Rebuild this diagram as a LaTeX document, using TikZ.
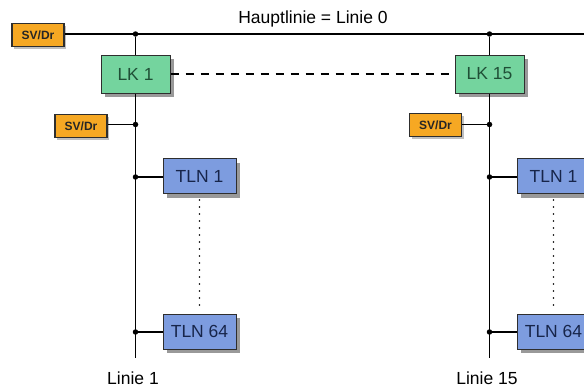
\documentclass[tikz,border=0pt]{standalone}
\usepackage{fontspec}
\setmainfont{Liberation Sans}
\usetikzlibrary{shadows}

\definecolor{svfill}{HTML}{F6A823}
\definecolor{lkfill}{HTML}{74D49E}
\definecolor{lktext}{HTML}{1F4F36}
\definecolor{tlnfill}{HTML}{7D9CDF}
\definecolor{tlntext}{HTML}{17254A}
\definecolor{edge}{HTML}{2E2E2E}

\tikzset{
  boxshadow/.style={general shadow={shadow xshift=4pt, shadow yshift=-4pt, fill=black!40}},
  svbox/.style={draw=edge, line width=1.2pt, fill=svfill, minimum width=52pt, minimum height=23pt,
    inner sep=0pt, font=\fontsize{12}{12}\selectfont\bfseries, text=black!85,
    general shadow={shadow xshift=2pt, shadow yshift=-2pt, fill=black!25}},
  lkbox/.style={draw=edge, line width=1pt, fill=lkfill, minimum width=69pt, minimum height=38pt,
    inner sep=0pt, font=\fontsize{17.5}{17.5}\selectfont, text=lktext, boxshadow},
  tlnbox/.style={draw=edge, line width=1pt, fill=tlnfill, minimum width=73pt, minimum height=35pt,
    inner sep=0pt, font=\fontsize{17.5}{17.5}\selectfont, text=tlntext, boxshadow},
  label/.style={font=\fontsize{17.5}{17.5}\selectfont, inner sep=0pt},
  wire/.style={line width=1.5pt, black},
  dots/.style={line width=1.8pt, line cap=round, dash pattern=on 0pt off 7pt},
  junction/.style={circle, fill=black, inner sep=0pt, minimum size=5.5pt},
}

\begin{document}
\begin{tikzpicture}[x=1pt, y=-1pt]
  \useasboundingbox (0,0) rectangle (584,388);
  \clip (0,0) rectangle (584,388);
  \fill[white] (0,0) rectangle (584,388);

  % main line (line 0)
  \node[label] (title) at (313,19) {Hauptlinie = Linie 0};
  \node[svbox] (sv0) at (38,35) {SV/Dr};
  \coordinate (mainend) at (590,34);
  \draw[wire] (sv0.east |- 0,34) -- (mainend);

  % line couplers
  \node[lkbox] (lk1) at (135.5,74) {LK 1};
  \node[lkbox] (lk15) at (489.5,74) {LK 15};
  \node[junction] (j01) at (135.5,34) {};
  \node[junction] (j015) at (489.5,34) {};
  \draw[wire] (j01) -- (lk1.north);
  \draw[wire] (j015) -- (lk15.north);
  \draw[line width=1.2pt, dash pattern=on 8pt off 7pt] (lk1.east) -- (lk15.west);

  % line 1
  \coordinate (end1) at (135.5,358);
  \draw[wire] (lk1.south) -- (end1);
  \node[svbox] (sv1) at (81,126) {SV/Dr};
  \node[junction] (js1) at (135.5,124.5) {};
  \draw[wire] (sv1.east |- js1) -- (js1);
  \node[tlnbox] (t1a) at (199.5,176) {TLN 1};
  \node[tlnbox] (t1b) at (199.5,331.5) {TLN 64};
  \node[junction] (jt1a) at (135.5,177) {};
  \node[junction] (jt1b) at (135.5,332) {};
  \draw[wire] (jt1a) -- (t1a.west |- jt1a);
  \draw[wire] (jt1b) -- (t1b.west |- jt1b);
  \draw[dots] ([yshift=-6pt]t1a.south) -- ([yshift=4pt]t1b.north);
  \node[label] (lab1) at (133,378) {Linie 1};

  % line 15
  \coordinate (end15) at (489.5,358);
  \draw[wire] (lk15.south) -- (end15);
  \node[svbox] (sv15) at (435.5,125) {SV/Dr};
  \node[junction] (js15) at (489.5,124.5) {};
  \draw[wire] (sv15.east |- js15) -- (js15);
  \node[tlnbox] (t15a) at (553.5,176) {TLN 1};
  \node[tlnbox] (t15b) at (553.5,331.5) {TLN 64};
  \node[junction] (jt15a) at (489.5,177) {};
  \node[junction] (jt15b) at (489.5,332) {};
  \draw[wire] (jt15a) -- (t15a.west |- jt15a);
  \draw[wire] (jt15b) -- (t15b.west |- jt15b);
  \draw[dots] ([yshift=-6pt]t15a.south) -- ([yshift=4pt]t15b.north);
  \node[label] (lab15) at (487,378) {Linie 15};
\end{tikzpicture}
\end{document}
